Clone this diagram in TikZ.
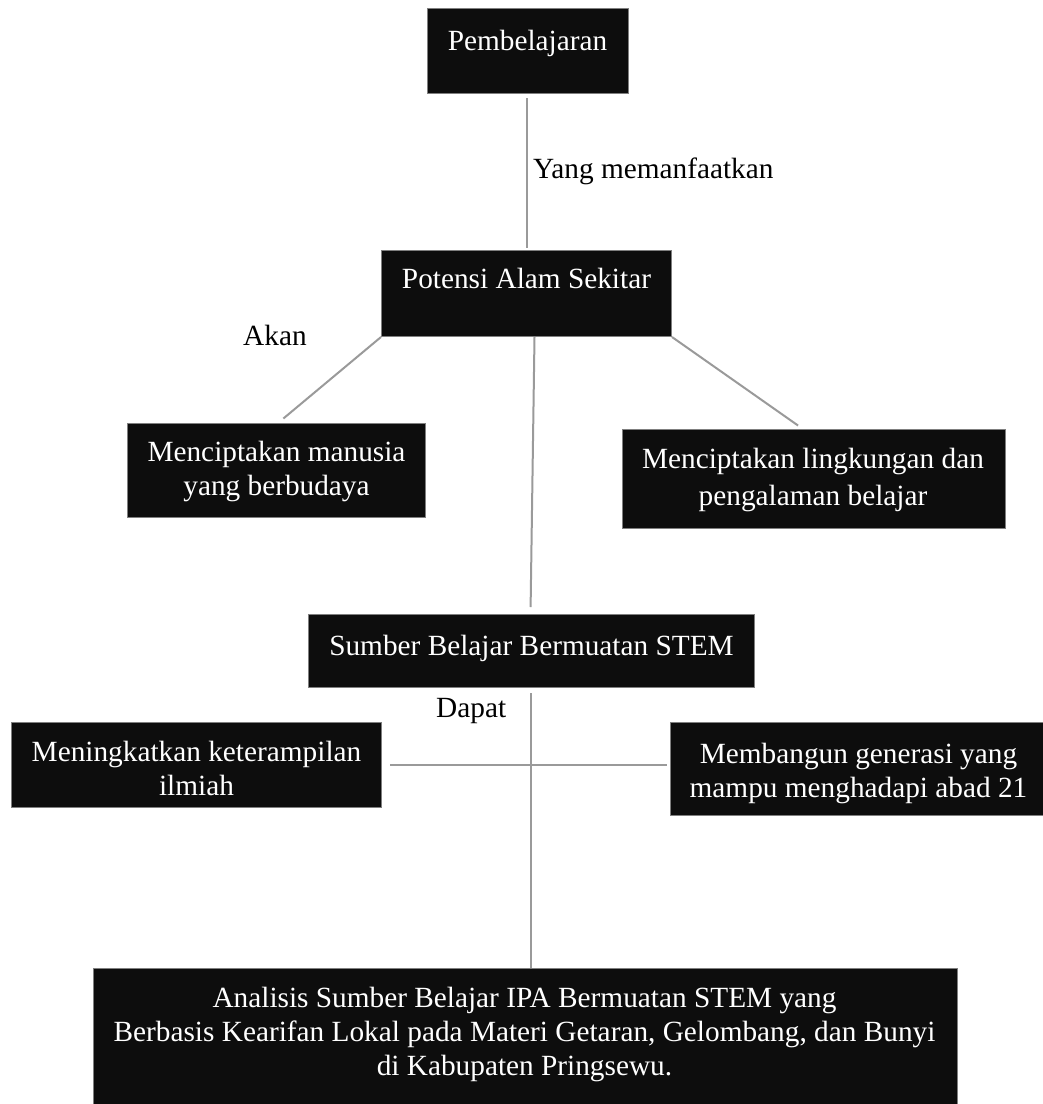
\documentclass[tikz,border=0pt]{standalone}
\usepackage{fontspec}
\setmainfont{Liberation Serif}
\definecolor{boxfill}{HTML}{0D0D0D}
\definecolor{boxline}{HTML}{7F7F7F}
\definecolor{connc}{HTML}{9A9A9A}
\begin{document}
\begin{tikzpicture}[x=1pt,y=-1pt,
  every node/.style={font=\fontsize{29.3}{34}\selectfont},
  box/.style={draw=boxline, line width=1pt, fill=boxfill, inner sep=0pt, anchor=north west},
  wtext/.style={text=white, inner sep=0pt, align=center},
  label/.style={text=black, inner sep=0pt, anchor=base west},
  conn/.style={draw=connc, line width=2pt}]
\useasboundingbox (0,0) rectangle (1043,1104);

% boxes
\node[box, minimum width=201pt, minimum height=85pt] (pemb) at (427,8) {};
\node[box, minimum width=290pt, minimum height=86pt] (pot) at (381,250) {};
\node[box, minimum width=298pt, minimum height=94pt] (mm) at (127,423) {};
\node[box, minimum width=383pt, minimum height=99pt] (ml) at (622,429) {};
\node[box, minimum width=446pt, minimum height=73pt] (sb) at (308,614) {};
\node[box, minimum width=370pt, minimum height=85pt] (mk) at (11,722) {};
\node[box, minimum width=376pt, minimum height=93pt] (mb) at (670,722) {};
\node[box, minimum width=864pt, minimum height=140pt] (bt) at (93,968) {};

% box texts
\node[wtext, anchor=base] (pembt) at (527.5,50) {Pembelajaran};
\node[wtext, anchor=base] (pott) at (526.5,288) {Potensi Alam Sekitar};
\node[wtext] (mmt) at (276.5,471.5) {Menciptakan manusia\\yang berbudaya};
\node[wtext, font=\fontsize{29.3}{37}\selectfont] (mlt) at (813,480) {Menciptakan lingkungan dan\\pengalaman belajar};
\node[wtext, anchor=base] (sbt) at (531.5,655) {Sumber Belajar Bermuatan STEM};
\node[wtext] (mkt) at (196.5,768.5) {Meningkatkan keterampilan\\ilmiah};
\node[wtext] (mbt) at (858.5,773.5) {Membangun generasi yang\\mampu menghadapi abad 21};
\node[wtext] (btt) at (524.5,1034.5) {Analisis Sumber Belajar IPA Bermuatan STEM yang\\Berbasis Kearifan Lokal pada Materi Getaran, Gelombang, dan Bunyi\\di Kabupaten Pringsewu.};

% connector labels
\node[label] (l1) at (533,178) {Yang memanfaatkan};
\node[label] (l2) at (243,345) {Akan};
\node[label] (l3) at (436,717) {Dapat};

% connectors
\draw[conn, shorten <=4pt, shorten >=2pt] ([xshift=-1.5pt]pemb.south) -- ([xshift=-1.5pt]pemb.south |- pot.north);
\draw[conn, shorten >=7pt] (pot.south west) -- ([xshift=1.5pt]mm.north);
\draw[conn, shorten >=7pt] ([xshift=8pt]pot.south) -- ([xshift=-1pt]sb.north);
\draw[conn, shorten >=6pt] (pot.south east) -- ([xshift=-11pt]ml.north);
\draw[conn, shorten <=5pt] ([xshift=-1pt]sb.south) -- ([xshift=-1pt]sb.south |- bt.north);
\draw[conn, shorten <=8pt, shorten >=3pt] (mk.east) -- (mk.east -| mb.west);
\end{tikzpicture}
\end{document}
